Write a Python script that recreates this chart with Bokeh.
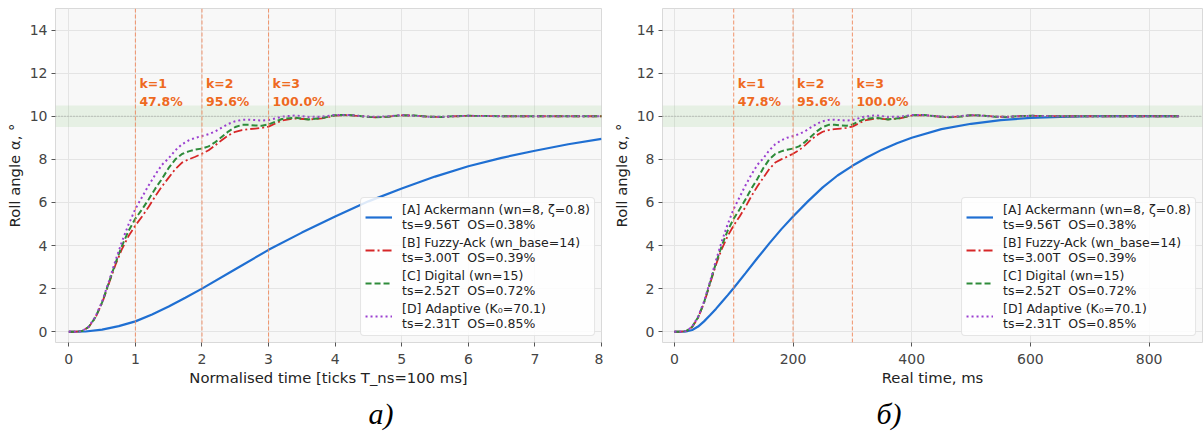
from bokeh.plotting import figure
from bokeh.models import (Span, BoxAnnotation, Legend, LegendItem, Title,
                          ColumnDataSource, FixedTicker, Range1d)
from bokeh.layouts import row
from bokeh.embed import file_html
from bokeh.resources import INLINE
from bokeh.core.properties import value

# ---- data -------------------------------------------------------------
T_NS_MS = 100  # one normalised tick in milliseconds

t_norm = [0.0, 0.1, 0.2, 0.3, 0.4, 0.5, 0.6, 0.7, 0.8, 0.9,
          1.0, 1.1, 1.2, 1.3, 1.4, 1.5, 1.6, 1.7, 1.8, 1.9,
          2.0, 2.1, 2.2, 2.3, 2.4, 2.5, 2.6, 2.7, 2.8, 2.9,
          3.0, 3.2, 3.4, 3.6, 3.8, 4.0, 4.2, 4.4, 4.6, 4.8,
          5.0, 5.2, 5.4, 5.6, 5.8, 6.0, 6.5, 7.0, 7.5, 8.0, 8.5]

fuzzy_ack = [0.0, 0.0, 0.03, 0.22, 0.65, 1.33, 2.22, 3.1, 3.85, 4.45,
             4.93, 5.35, 5.8, 6.3, 6.75, 7.15, 7.55, 7.85, 8.0, 8.12,
             8.26, 8.42, 8.65, 8.9, 9.12, 9.28, 9.36, 9.4, 9.43, 9.46,
             9.52, 9.8, 9.9, 9.85, 9.9, 10.03, 10.05, 10.0, 9.95, 9.98,
             10.04, 10.03, 9.98, 9.97, 10.0, 10.02, 10.0, 10.0, 10.0, 10.0, 10.0]

digital = [0.0, 0.0, 0.03, 0.23, 0.67, 1.36, 2.26, 3.18, 4.0, 4.7,
           5.25, 5.68, 6.15, 6.65, 7.1, 7.6, 8.0, 8.25, 8.37, 8.45,
           8.5, 8.6, 8.8, 9.05, 9.3, 9.5, 9.6, 9.6, 9.57, 9.56,
           9.62, 9.87, 9.93, 9.85, 9.92, 10.05, 10.06, 10.0, 9.95, 9.98,
           10.05, 10.03, 9.98, 9.97, 10.0, 10.02, 10.0, 10.0, 10.0, 10.0, 10.0]

adaptive = [0.0, 0.0, 0.03, 0.24, 0.7, 1.4, 2.32, 3.3, 4.2, 5.0,
            5.7, 6.25, 6.8, 7.3, 7.75, 8.05, 8.42, 8.7, 8.88, 9.0,
            9.08, 9.17, 9.3, 9.48, 9.65, 9.77, 9.83, 9.84, 9.82, 9.8,
            9.82, 9.98, 10.04, 9.97, 9.98, 10.06, 10.06, 10.0, 9.97, 10.0,
            10.05, 10.02, 9.98, 9.97, 10.0, 10.02, 10.0, 10.0, 10.0, 10.0, 10.0]

# Ackermann response on the normalised axis
ack_t_norm = [0.0, 0.25, 0.5, 0.75, 1.0, 1.25, 1.5, 1.75, 2.0, 2.5, 3.0,
              3.5, 4.0, 4.5, 5.0, 5.5, 6.0, 6.5, 7.0, 7.5, 8.0]
ack_norm = [0.0, 0.01, 0.1, 0.26, 0.48, 0.8, 1.17, 1.58, 2.0, 2.9, 3.8,
            4.6, 5.35, 6.05, 6.65, 7.2, 7.68, 8.07, 8.4, 8.7, 8.95]

# Ackermann response on the real-time axis
ack_t_ms = [0, 10, 20, 30, 40, 50, 60, 70, 80, 90, 100, 120, 140, 160, 180,
            200, 225, 250, 275, 300, 325, 350, 375, 400, 450, 500, 550, 600,
            650, 700, 750, 800, 850]
ack_ms = [0.0, 0.0, 0.01, 0.08, 0.24, 0.48, 0.76, 1.06, 1.38, 1.7, 2.03,
          2.72, 3.42, 4.1, 4.75, 5.35, 6.05, 6.7, 7.25, 7.7, 8.1, 8.45, 8.75,
          9.0, 9.4, 9.65, 9.82, 9.92, 9.97, 10.0, 10.01, 10.01, 10.01]

k_steps = [1, 2, 3]
k_percent = [47.8, 95.6, 100.0]

setpoint = 10.0
band_half = 0.5

legend_labels = [
    "[A] Ackermann (wn=8, \u03b6=0.8)\nts=9.56T  OS=0.38%",
    "[B] Fuzzy-Ack (wn_base=14)\nts=3.00T  OS=0.39%",
    "[C] Digital (wn=15)\nts=2.52T  OS=0.72%",
    "[D] Adaptive (K\u2080=70.1)\nts=2.31T  OS=0.85%",
]

y_ticks = [0, 2, 4, 6, 8, 10, 12, 14]
x_ticks_norm = [0, 1, 2, 3, 4, 5, 6, 7, 8]
x_ticks_ms = [0, 200, 400, 600, 800]

# ---- styling ----------------------------------------------------------
FONT = "DejaVu Sans"
C_A = "#1f6fd2"
C_B = "#d62728"
C_C = "#2e8b3a"
C_D = "#9b3fd0"
C_K = "#ee6a1f"


def make_panel(width, border_left, border_right, xr, xticks, xlabel,
               scale, ack_x, ack_y, caption, cap_offset):
    p = figure(width=width, height=439, output_backend="svg",
               toolbar_location=None,
               x_range=Range1d(*xr), y_range=Range1d(-0.5, 15.0),
               min_border_left=border_left, min_border_right=border_right,
               min_border_top=8, min_border_bottom=97)
    p.background_fill_color = "#f8f8f8"
    p.border_fill_color = "white"
    p.outline_line_color = "#d9d9d9"
    p.grid.grid_line_color = "#e4e4e4"
    p.grid.grid_line_width = 1

    for ax in (p.xaxis[0], p.yaxis[0]):
        ax.axis_line_color = None
        ax.major_tick_line_color = "#555555"
        ax.major_tick_out = 4
        ax.major_tick_in = 0
        ax.minor_tick_line_color = None
        ax.major_label_text_font = FONT
        ax.major_label_text_font_size = "14px"
        ax.major_label_text_color = "#444444"
        ax.axis_label_text_font = FONT
        ax.axis_label_text_font_size = "14.8px"
        ax.axis_label_text_font_style = "normal"
        ax.axis_label_text_color = "#222222"
    p.xaxis.ticker = FixedTicker(ticks=xticks)
    p.yaxis.ticker = FixedTicker(ticks=y_ticks)
    p.xaxis.axis_label = xlabel
    p.yaxis.axis_label = "Roll angle \u03b1, \u00b0"
    p.xaxis.major_label_standoff = 7
    p.yaxis.major_label_standoff = 4
    p.xaxis.axis_label_standoff = 2
    p.yaxis.axis_label_standoff = 4

    # tolerance band around the set point
    p.add_layout(BoxAnnotation(bottom=setpoint - band_half,
                               top=setpoint + band_half,
                               fill_color="#6bbf59", fill_alpha=0.12,
                               line_color=None, level="underlay"))
    p.add_layout(Span(location=setpoint, dimension="width",
                      line_color="#9a9a9a", line_width=1,
                      line_dash="1 2"))

    # sampling instants
    kx = [k * scale for k in k_steps]
    for x in kx:
        p.add_layout(Span(location=x, dimension="height",
                          line_color="#f08a5d", line_width=1,
                          line_dash="4 2", line_alpha=0.9))
    p.text(x=kx, y=[11.85] * len(kx),
           text=[f"k={k}\n{v:.1f}%" for k, v in zip(k_steps, k_percent)],
           text_font=value(FONT), text_font_style="bold",
           text_font_size="12.5px", text_color=C_K,
           text_baseline="top", text_align="left", x_offset=4,
           text_line_height=1.15)

    tx = [t * scale for t in t_norm]
    src = ColumnDataSource(dict(t=tx, b=fuzzy_ack, c=digital, d=adaptive))
    ra = p.line(ack_x, ack_y, line_color=C_A, line_width=2.2)
    rb = p.line("t", "b", source=src, line_color=C_B, line_width=1.8,
                line_dash="9 3 2 3")
    rc = p.line("t", "c", source=src, line_color=C_C, line_width=2.0,
                line_dash="6 3")
    rd = p.line("t", "d", source=src, line_color=C_D, line_width=2.0,
                line_dash="2 3")

    legend = Legend(items=[LegendItem(label=lab, renderers=[r])
                           for lab, r in zip(legend_labels, [ra, rb, rc, rd])],
                    location="bottom_right")
    legend.label_text_font = FONT
    legend.label_text_font_size = "12.5px"
    legend.label_text_color = "#222222"
    legend.label_text_line_height = 1.2
    legend.glyph_width = 27
    legend.glyph_height = 28
    legend.label_standoff = 10
    legend.padding = 4
    legend.spacing = 3
    legend.margin = 6
    legend.border_line_color = "#cccccc"
    legend.background_fill_color = "white"
    legend.background_fill_alpha = 0.85
    if "border_radius" in legend.properties():
        legend.border_radius = 4
    p.add_layout(legend)

    p.add_layout(Title(text=caption, align="left", offset=cap_offset,
                       text_font="Liberation Serif", text_font_style="italic",
                       text_font_size="30px", text_color="black",
                       text_line_height=1.0, standoff=12), "below")
    return p


p1 = make_panel(603, 55, 2, (-0.2, 8.0), x_ticks_norm,
                "Normalised time [ticks T_ns=100 ms]", 1,
                ack_t_norm, ack_norm, "\u0430)", 313)
p2 = make_panel(600, 59, 1, (-20, 890), x_ticks_ms, "Real time, ms",
                T_NS_MS, ack_t_ms, ack_ms, "\u0431)", 214)

layout = row(p1, p2)
open("out.html", "w").write(file_html(layout, INLINE))
